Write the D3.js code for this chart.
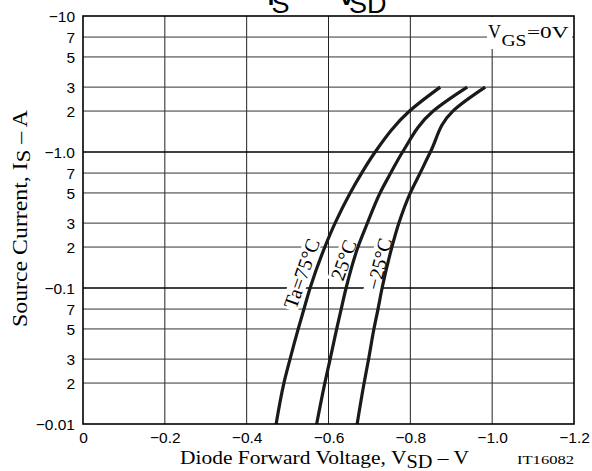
<!DOCTYPE html>
<html><head><meta charset="utf-8">
<script src="https://cdn.jsdelivr.net/npm/d3@7"></script>
<style>body{margin:0;background:#fff}svg{display:block}</style>
</head><body><svg id="c" width="592" height="471"></svg>
<script>
// ---- data ----
const xTicks = [0, -0.2, -0.4, -0.6, -0.8, -1.0, -1.2];
const xTickLabels = ["0", "−0.2", "−0.4", "−0.6", "−0.8", "−1.0", "−1.2"];
const yMajor = [-10, -1, -0.1, -0.01];
const yMajorLabels = ["−10", "−1.0", "−0.1", "−0.01"];
const yMinorMant = [7, 5, 3, 2];
const current = [-0.01, -0.02, -0.03, -0.05, -0.07, -0.1, -0.2, -0.3, -0.5, -0.7, -1.0, -2, -3];
const vsd75  = [-0.472, -0.491, -0.506, -0.526, -0.540, -0.555, -0.591, -0.616, -0.653, -0.681, -0.714, -0.798, -0.873];
const vsd25  = [-0.571, -0.591, -0.604, -0.620, -0.631, -0.643, -0.672, -0.695, -0.726, -0.752, -0.781, -0.856, -0.939];
const vsdM25 = [-0.670, -0.687, -0.698, -0.711, -0.721, -0.731, -0.755, -0.772, -0.800, -0.824, -0.849, -0.904, -0.983];
const seriesNames = ["Ta=75°C", "25°C", "−25°C"];

const svg = d3.select("#c");
const L = 83, R = 574, T = 16, B = 424;
const x = d3.scaleLinear().domain([0, -1.2]).range([L, R]);
const y = d3.scaleLog().domain([-0.01, -10]).range([B, T]);
const SERIF = "'Liberation Serif','Times New Roman',serif";
const SANS = "'Liberation Sans',Arial,Helvetica,sans-serif";

// minor y values
const yMinor = [];
yMajor.slice(0, 3).forEach(m => yMinorMant.forEach(k => yMinor.push(m / 10 * k)));

// grid
const grid = svg.append("g");
grid.selectAll(".vx").data(xTicks.slice(1, -1)).join("line")
  .attr("x1", d => x(d)).attr("x2", d => x(d)).attr("y1", T).attr("y2", B)
  .attr("stroke", "#222").attr("stroke-width", 1);
grid.selectAll(".hm").data(yMinor).join("line")
  .attr("x1", L).attr("x2", R).attr("y1", d => y(d)).attr("y2", d => y(d))
  .attr("stroke", "#333").attr("stroke-width", 1);
grid.selectAll(".hM").data(yMajor.slice(1, 3)).join("line")
  .attr("x1", L).attr("x2", R).attr("y1", d => y(d)).attr("y2", d => y(d))
  .attr("stroke", "#000").attr("stroke-width", 1.6);

// axes tick labels
const xa = svg.append("g").attr("transform", `translate(0,${B})`)
  .call(d3.axisBottom(x).tickValues(xTicks).tickSize(0).tickPadding(0)
    .tickFormat((d, i) => xTickLabels[i]));
xa.select(".domain").remove();
xa.selectAll("text").attr("y", 19).attr("dy", 0).attr("font-family", SANS).attr("font-size", 15.5).attr("fill", "#000");

const yTickVals = yMajor.concat(yMinor);
const ya = svg.append("g").attr("transform", `translate(75,0)`)
  .call(d3.axisLeft(y).tickValues(yTickVals).tickSize(0).tickPadding(0)
    .tickFormat(d => {
      const i = yMajor.indexOf(d);
      if (i >= 0) return yMajorLabels[i];
      const m = Math.abs(d) / Math.pow(10, Math.floor(Math.log10(Math.abs(d)) + 1e-9));
      return String(Math.round(m));
    }));
ya.select(".domain").remove();
ya.selectAll("text").attr("x", 0).attr("dy", "0.36em").attr("font-family", SANS).attr("font-size", 15.5).attr("fill", "#000");

// VGS label box
svg.append("rect").attr("x", 487).attr("y", T + 1).attr("width", 85).attr("height", 32).attr("fill", "#fff");
const vgs = svg.append("g").attr("font-family", SERIF).attr("fill", "#000");
vgs.append("text").attr("x", 488).attr("y", 37.5).attr("font-size", 18).text("V")
  .attr("textLength", 13).attr("lengthAdjust", "spacingAndGlyphs");
vgs.append("text").attr("x", 501.5).attr("y", 45.5).attr("font-size", 17).text("GS")
  .attr("textLength", 25).attr("lengthAdjust", "spacingAndGlyphs");
vgs.append("text").attr("x", 527).attr("y", 37.5).attr("font-size", 17.5).text("=0V")
  .attr("textLength", 41.5).attr("lengthAdjust", "spacingAndGlyphs");

// curve labels
const labelPos = [[301.5, 273.5, -70.5], [343.5, 260, -70], [379, 264, -76]];
seriesNames.forEach((name, i) => {
  const p = labelPos[i];
  const g = svg.append("g").attr("transform", `translate(${p[0]},${p[1]}) rotate(${p[2]})`);
  const r = g.append("rect").attr("fill", "#fff");
  const t = g.append("text").attr("text-anchor", "middle").attr("dominant-baseline", "central")
    .attr("font-family", SERIF).attr("font-size", 20).attr("fill", "#000").text(name);
  const b = t.node().getBBox();
  r.attr("x", b.x - 2).attr("y", b.y + 2).attr("width", b.width + 4).attr("height", b.height - 4);
});

// curves
const series = [vsd75, vsd25, vsdM25];
const line = d3.line().x(d => x(d[0])).y(d => y(d[1])).curve(d3.curveMonotoneY);
svg.append("g").selectAll("path").data(series).join("path")
  .attr("d", s => line(s.map((v, i) => [v, current[i]])))
  .attr("fill", "none").attr("stroke", "#1a1a1a").attr("stroke-width", 3.2).attr("stroke-linecap", "butt");

// frame
svg.append("rect").attr("x", L).attr("y", T).attr("width", R - L).attr("height", B - T)
  .attr("fill", "none").attr("stroke", "#000").attr("stroke-width", 1.6);

// title (partially cut off at the top)
const tt = svg.append("g").attr("font-family", SANS).attr("fill", "#000");
tt.append("text").attr("x", 266).attr("y", 5).attr("font-size", 36).text("I");
tt.append("text").attr("x", 271.5).attr("y", 12.7).attr("font-size", 27).text("S");
tt.append("text").attr("x", 303).attr("y", 5).attr("font-size", 36).text("–");
tt.append("text").attr("x", 334.5).attr("y", 5).attr("font-size", 36).text("V");
tt.append("text").attr("x", 349).attr("y", 12.7).attr("font-size", 27).text("SD");

// x axis title
const xt = svg.append("text").attr("x", 180).attr("y", 464).attr("font-family", SERIF)
  .attr("font-size", 19).attr("fill", "#000");
xt.append("tspan").text("Diode Forward Voltage, V");
xt.append("tspan").attr("dy", 4).attr("font-size", 18).text("SD");
xt.append("tspan").attr("dy", -4).text("  –  V");
xt.attr("textLength", 289).attr("lengthAdjust", "spacingAndGlyphs");

svg.append("text").attr("x", 517).attr("y", 464).attr("font-family", SERIF).attr("font-size", 13.5)
  .attr("fill", "#000").text("IT16082").attr("textLength", 57).attr("lengthAdjust", "spacingAndGlyphs");

// y axis title
const ytg = svg.append("g").attr("transform", "translate(26.5,327) rotate(-90)");
const yt = ytg.append("text").attr("x", 0).attr("y", 0).attr("font-family", SERIF)
  .attr("font-size", 20).attr("fill", "#000");
yt.append("tspan").text("Source Current, I");
yt.append("tspan").attr("dy", 3.5).attr("font-size", 19).text("S");
yt.append("tspan").attr("dy", -3.5).text("  –  A");
yt.attr("textLength", 217).attr("lengthAdjust", "spacingAndGlyphs");
</script></body></html>
